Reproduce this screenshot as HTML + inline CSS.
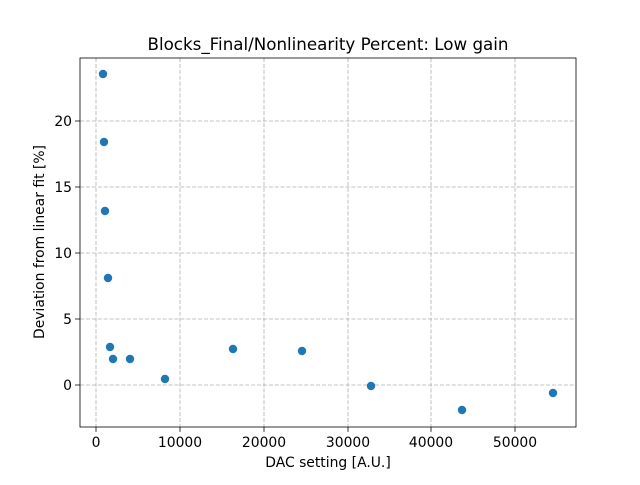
<!DOCTYPE html>
<html><head><meta charset="utf-8"><style>
html,body{margin:0;padding:0;background:#fff;}
svg text{font-family:"DejaVu Sans","Liberation Sans",sans-serif;fill:#000;}
</style></head><body>
<svg width="640" height="480" viewBox="0 0 640 480" xmlns="http://www.w3.org/2000/svg">
<rect width="640" height="480" fill="#fff"/>
<g stroke="#b0b0b0" stroke-width="0.8" stroke-dasharray="4.1,1.8" fill="none">
<line x1="96" y1="58" x2="96" y2="427"/>
<line x1="180" y1="58" x2="180" y2="427"/>
<line x1="264" y1="58" x2="264" y2="427"/>
<line x1="348" y1="58" x2="348" y2="427"/>
<line x1="431" y1="58" x2="431" y2="427"/>
<line x1="515" y1="58" x2="515" y2="427"/>
<line x1="80" y1="385" x2="576" y2="385"/>
<line x1="80" y1="319" x2="576" y2="319"/>
<line x1="80" y1="253" x2="576" y2="253"/>
<line x1="80" y1="187" x2="576" y2="187"/>
<line x1="80" y1="121" x2="576" y2="121"/>
</g>
<g fill="#1f77b4">
<circle cx="103" cy="74" r="4.2"/>
<circle cx="104" cy="142" r="4.2"/>
<circle cx="105" cy="211" r="4.2"/>
<circle cx="108" cy="278" r="4.2"/>
<circle cx="110" cy="347" r="4.2"/>
<circle cx="113" cy="359" r="4.2"/>
<circle cx="130" cy="359" r="4.2"/>
<circle cx="165" cy="379" r="4.2"/>
<circle cx="233" cy="349" r="4.2"/>
<circle cx="302" cy="351" r="4.2"/>
<circle cx="371" cy="386" r="4.2"/>
<circle cx="462" cy="410" r="4.2"/>
<circle cx="553" cy="393" r="4.2"/>
</g>
<rect x="80" y="58" width="496" height="369" fill="none" stroke="#000" stroke-width="0.8"/>
<g stroke="#000" stroke-width="0.8">
<line x1="96" y1="427" x2="96" y2="431.9"/>
<line x1="180" y1="427" x2="180" y2="431.9"/>
<line x1="264" y1="427" x2="264" y2="431.9"/>
<line x1="348" y1="427" x2="348" y2="431.9"/>
<line x1="431" y1="427" x2="431" y2="431.9"/>
<line x1="515" y1="427" x2="515" y2="431.9"/>
<line x1="75.1" y1="385" x2="80" y2="385"/>
<line x1="75.1" y1="319" x2="80" y2="319"/>
<line x1="75.1" y1="253" x2="80" y2="253"/>
<line x1="75.1" y1="187" x2="80" y2="187"/>
<line x1="75.1" y1="121" x2="80" y2="121"/>
</g>
<g font-size="13.9" text-anchor="middle">
<text x="96" y="447">0</text>
<text x="180" y="447">10000</text>
<text x="264" y="447">20000</text>
<text x="348" y="447">30000</text>
<text x="431" y="447">40000</text>
<text x="515" y="447">50000</text>
</g>
<g font-size="13.9" text-anchor="end">
<text x="72" y="390">0</text>
<text x="72" y="324">5</text>
<text x="72" y="258">10</text>
<text x="72" y="192">15</text>
<text x="72" y="126">20</text>
</g>
<text x="328" y="467" font-size="13.9" text-anchor="middle">DAC setting [A.U.]</text>
<text transform="translate(44,242) rotate(-90)" font-size="13.9" text-anchor="middle">Deviation from linear fit [%]</text>
<text x="328" y="50" font-size="16.7" text-anchor="middle">Blocks_Final/Nonlinearity Percent: Low gain</text>
</svg>
</body></html>
